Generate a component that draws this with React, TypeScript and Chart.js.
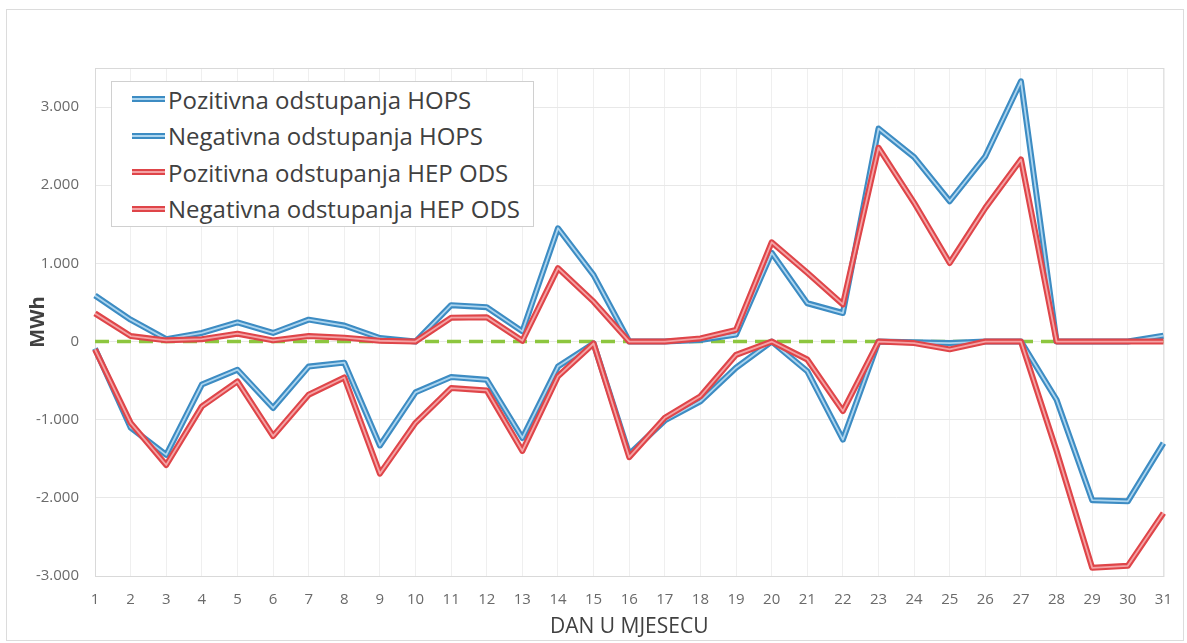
import React, { useEffect, useRef } from 'react';
import { Chart, registerables } from 'chart.js';

Chart.register(...registerables);

// ---- data ----
const days = ['1', '2', '3', '4', '5', '6', '7', '8', '9', '10', '11', '12', '13', '14', '15', '16', '17', '18', '19', '20', '21', '22', '23', '24', '25', '26', '27', '28', '29', '30', '31'];

const hopsPositive = [590, 280, 30, 110, 245, 110, 280, 205, 45, 0, 465, 440, 130, 1450, 850, 0, 0, 20, 90, 1135, 490, 365, 2725, 2360, 1795, 2370, 3330, 0, 0, 0, 75];
const hopsNegative = [-90, -1100, -1450, -550, -360, -850, -320, -270, -1330, -650, -455, -490, -1235, -320, -25, -1440, -1010, -765, -335, 0, -380, -1255, 0, -10, -20, 0, 0, -745, -2030, -2045, -1300];
const hepPositive = [360, 70, 15, 30, 100, 15, 70, 50, 10, 0, 305, 310, 10, 940, 510, 0, 0, 40, 150, 1270, 880, 475, 2480, 1775, 1005, 1710, 2330, 0, 0, 0, 0];
const hepNegative = [-100, -1040, -1580, -830, -510, -1210, -680, -460, -1690, -1040, -595, -625, -1400, -445, -25, -1480, -975, -700, -170, 0, -230, -890, 0, -20, -100, 0, 0, -1400, -2895, -2870, -2195];

const yTickValues = [-3000, -2000, -1000, 0, 1000, 2000, 3000];
const yMin = -3000;
const yMax = 3500;
const zeroValue = 0;

const seriesLabels = [
  'Pozitivna odstupanja HOPS',
  'Negativna odstupanja HOPS',
  'Pozitivna odstupanja HEP ODS',
  'Negativna odstupanja HEP ODS',
];
const seriesData = [hopsPositive, hopsNegative, hepPositive, hepNegative];

// ---- styles ----
const BLUE_OUT = '#3d8cc3';
const BLUE_IN = '#acd5ef';
const RED_OUT = '#df4549';
const RED_IN = '#f4a3a5';
const outerColors = [BLUE_OUT, BLUE_OUT, RED_OUT, RED_OUT];
const innerColors = [BLUE_IN, BLUE_IN, RED_IN, RED_IN];
const FONT = '"Open Sans", "DejaVu Sans", sans-serif';

function fmt(v: number): string {
  const s = Math.abs(v).toString().replace(/\B(?=(\d{3})+(?!\d))/g, '.');
  return v < 0 ? '-' + s : s;
}

const plotDecor = {
  id: 'plotDecor',
  beforeDatasetsDraw(chart: any) {
    const { ctx, chartArea: a, scales } = chart;
    const y = scales.y;
    ctx.save();
    ctx.strokeStyle = '#d9d9d9';
    ctx.lineWidth = 1;
    ctx.strokeRect(Math.round(a.left) + 0.5, Math.round(a.top) + 0.5, a.width, a.height);
    const yz = y.getPixelForValue(zeroValue);
    ctx.strokeStyle = '#8dc63f';
    ctx.lineWidth = 3.5;
    ctx.setLineDash([14, 8]);
    ctx.beginPath();
    ctx.moveTo(a.left, yz);
    ctx.lineTo(a.right, yz);
    ctx.stroke();
    ctx.restore();
  },
};

export default function App() {
  const canvasRef = useRef<HTMLCanvasElement | null>(null);

  useEffect(() => {
    if (!canvasRef.current) return;
    const datasets: any[] = [];
    seriesData.forEach((data, i) => {
      datasets.push({
        label: seriesLabels[i],
        data,
        borderColor: outerColors[i],
        backgroundColor: outerColors[i],
        borderWidth: 6,
        pointRadius: 0,
        tension: 0,
        borderJoinStyle: 'round',
        order: 10 - i * 2,
      });
      datasets.push({
        label: seriesLabels[i] + ' (inner)',
        data,
        borderColor: innerColors[i],
        backgroundColor: innerColors[i],
        borderWidth: 1.8,
        pointRadius: 0,
        tension: 0,
        borderJoinStyle: 'round',
        order: 9 - i * 2,
      });
    });

    const chart = new Chart(canvasRef.current, {
      type: 'line',
      data: { labels: days, datasets },
      options: {
        responsive: false,
        maintainAspectRatio: false,
        animation: false,
        layout: { padding: { left: 0, top: 68, right: 13, bottom: 0 } },
        plugins: {
          legend: { display: false },
          tooltip: { enabled: false },
        },
        scales: {
          x: {
            type: 'category',
            offset: false,
            grid: { color: '#efefef', drawTicks: false },
            border: { display: false },
            ticks: {
              color: '#6a6a6a',
              font: { family: FONT, size: 15 },
              padding: 15,
              maxRotation: 0,
              autoSkip: false,
            },
            title: {
              display: true,
              text: 'DAN U MJESECU',
              color: '#404040',
              font: { family: FONT, size: 21 },
              padding: { top: 0, bottom: 3 },
            },
            afterFit: (s: any) => {
              s.height = 67;
            },
          },
          y: {
            min: yMin,
            max: yMax,
            grid: { color: '#e8e8e8', drawTicks: false },
            border: { display: false },
            ticks: {
              color: '#6a6a6a',
              font: { family: FONT, size: 15 },
              padding: 16,
              callback: (v: any) => fmt(Number(v)),
            },
            afterBuildTicks: (s: any) => {
              s.ticks = yTickValues.map((v) => ({ value: v }));
            },
            title: {
              display: true,
              text: 'MWh',
              color: '#404040',
              font: { family: FONT, size: 20, weight: 'bold' },
              padding: { top: 26, bottom: 0 },
            },
            afterFit: (s: any) => {
              s.width = 95;
            },
          },
        },
      },
      plugins: [plotDecor],
    } as any);

    return () => chart.destroy();
  }, []);

  return (
    <div style={{ position: 'absolute', left: 0, top: 0, width: 1187, height: 643, background: '#fff' }}>
      <div
        style={{
          position: 'absolute',
          left: 6,
          top: 9,
          width: 1178,
          height: 632,
          border: '1px solid #dcdcdc',
          boxSizing: 'border-box',
        }}
      />
      <canvas ref={canvasRef} width={1187} height={643} style={{ position: 'absolute', left: 0, top: 0 }} />
      <div
        style={{
          position: 'absolute',
          left: 111,
          top: 81,
          width: 423,
          height: 146,
          border: '1px solid #d0d0d0',
          background: '#fff',
          boxSizing: 'border-box',
          fontFamily: FONT,
        }}
      >
        {seriesLabels.map((label, i) => (
          <div
            key={label}
            style={{
              position: 'absolute',
              left: 20,
              top: i * 36.5 - 1,
              height: 36,
              display: 'flex',
              alignItems: 'center',
              whiteSpace: 'nowrap',
            }}
          >
            <div
              style={{
                width: 33,
                height: 2,
                background: innerColors[i],
                borderTop: `2px solid ${outerColors[i]}`,
                borderBottom: `2px solid ${outerColors[i]}`,
                marginRight: 3,
              }}
            />
            <span style={{ fontSize: 24, color: '#404040' }}>{label}</span>
          </div>
        ))}
      </div>
    </div>
  );
}
